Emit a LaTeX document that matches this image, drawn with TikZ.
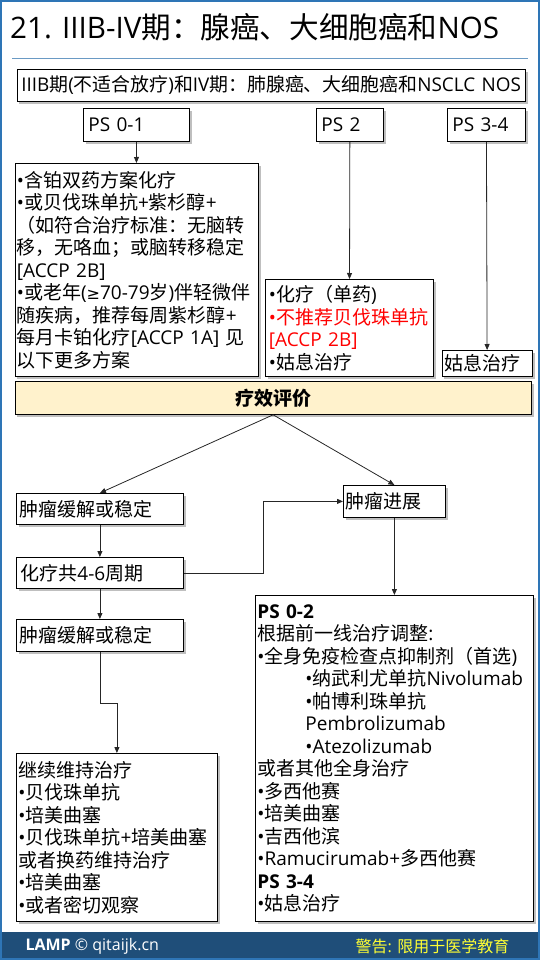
\documentclass[tikz,border=0pt]{standalone}
\usepackage{fontspec}
\setmainfont{Open Sans}
\newfontfamily\cjkfont{Noto Sans CJK SC}
\newfontfamily\symfont{DejaVu Sans}
\usepackage{xcolor}
\usetikzlibrary{arrows.meta,positioning,shadows}
% switch to the CJK font for CJK runs
\XeTeXinterchartokenstate=1
\newXeTeXintercharclass\CJKcls
\newcount\cjkc
\def\setcjkrange#1#2{\cjkc=#1\relax
  \loop\XeTeXcharclass\cjkc=\CJKcls\relax
  \ifnum\cjkc<#2\relax\advance\cjkc by 1\relax\repeat}
\setcjkrange{"4E00}{"9FFF}
\setcjkrange{"3000}{"303F}
\setcjkrange{"FF00}{"FFEF}
\XeTeXinterchartoks 0 \CJKcls = {\begingroup\cjkfont}
\XeTeXinterchartoks 4095 \CJKcls = {\begingroup\cjkfont}
\XeTeXinterchartoks \CJKcls 0 = {\endgroup}
\XeTeXinterchartoks \CJKcls 4095 = {\endgroup}
\definecolor{lampBlue}{HTML}{1F4E79}
\definecolor{frameBlue}{HTML}{2E75B6}
\definecolor{ruleBlue}{HTML}{6A9AC4}
\definecolor{evalFill}{HTML}{FFF2CC}
\definecolor{warnYellow}{HTML}{FFFF33}
\newcommand{\bodyfont}{\fontsize{19}{22.5}\selectfont}
\newcommand{\geqsym}{{\symfont\fontsize{16}{16}\selectfont ≥}}
\begin{document}
\begin{tikzpicture}[x=1pt, y=-1pt,
  box/.style={draw, fill=white, line width=0.8pt, anchor=north west, align=left,
    inner xsep=3pt, inner ysep=0pt, font=\bodyfont,
    drop shadow={shadow xshift=2.5pt, shadow yshift=-2.5pt, fill=black!50, opacity=0.5}},
  arr/.style={-{Triangle[length=6pt,width=5pt]}, line width=0.8pt, black!85}]
\useasboundingbox (0,0) rectangle (540,960);
% footer band and frame
\fill[lampBlue] (0,932) rectangle (540,960);
\draw[frameBlue, line width=2pt] (1,1) rectangle (539,959);
% title
\node[anchor=base west, inner sep=0pt, font=\fontsize{29.6}{35}\selectfont] (title) at (10,39)
  {21. IIIB-IV期：腺癌、大细胞癌和NOS};
\draw[ruleBlue, line width=1pt] (12,59) -- (528,59);
% top: stage and PS groups
\node[box, inner xsep=4.5pt, text width=499.5pt, minimum height=32pt,
  font=\fontsize{18.9}{22}\selectfont] (stage) at (16.5,69)
  {\mbox{IIIB期(不适合放疗)和IV期：肺腺癌、大细胞癌和NSCLC NOS}};
\node[box, inner xsep=5pt, text width=96pt, minimum height=33pt] (ps01) at (83,108) {PS 0-1};
\node[box, inner xsep=5pt, text width=57pt, minimum height=33pt] (ps2) at (316,108) {PS 2};
\node[box, inner xsep=5pt, text width=68pt, minimum height=33pt] (ps34) at (447,108) {PS 3-4};
% first line treatment
\node[box, inner xsep=2pt, text width=239.5pt, minimum height=213pt] (reg01) at (14.5,163)
  {•含铂双药方案化疗\\
   •或贝伐珠单抗+紫杉醇+\\
   （如符合治疗标准：无脑转\\
   移，无咯血；或脑转移稳定\\
   \relax[ACCP 2B]\\
   •或老年(\geqsym70-79岁)伴轻微伴\\
   随疾病，推荐每周紫杉醇+\\
   每月卡铂化疗[ACCP 1A] 见\\
   以下更多方案};
\node[box, inner xsep=3.5pt, text width=161pt, minimum height=97pt] (reg2) at (265,279)
  {•化疗（单药)\\
   \textcolor{red}{•不推荐贝伐珠单抗}\\
   \textcolor{red}{[ACCP 2B]}\\
   •姑息治疗};
\node[box, inner xsep=2.5pt, text width=85.5pt, minimum height=26pt] (pal34) at (441.5,350) {姑息治疗};
\draw[arr] (ps01) -- (reg01);
\draw[arr] (ps2) -- (reg2);
\draw[arr] (ps34) -- (pal34);
% response evaluation
\node[box, fill=evalFill, align=center, text width=510.5pt, minimum height=33pt,
  font=\bodyfont\bfseries] (eval) at (14.5,381) {疗效评价};
\node[box, text width=161pt, minimum height=31pt] (resp1) at (16,493) {肿瘤缓解或稳定};
\node[box, inner xsep=2.5pt, text width=97pt, minimum height=32pt] (prog) at (343,485) {肿瘤进展};
\node[box, inner xsep=4pt, text width=159pt, minimum height=31pt] (chemo) at (16,557) {化疗共4-6周期};
\node[box, text width=161pt, minimum height=32pt] (resp2) at (16,619) {肿瘤缓解或稳定};
\draw[arr] (eval.south) -- (resp1.north);
\draw[arr] (eval.south) -- (prog.north);
\draw[arr] (resp1) -- (chemo);
\draw[arr] (chemo.east) -- ++(80,0) |- (prog.west);
\draw[arr] (chemo) -- (resp2);
% maintenance / second line
\node[box, inner xsep=2pt, text width=197pt, minimum height=168pt] (maint) at (16,753)
  {继续维持治疗\\
   •贝伐珠单抗\\
   •培美曲塞\\
   •贝伐珠单抗+培美曲塞\\
   或者换药维持治疗\\
   •培美曲塞\\
   •或者密切观察};
\node[box, inner xsep=2pt, text width=274pt, minimum height=326pt] (later) at (255,595)
  {\textbf{PS 0-2}\\
   根据前一线治疗调整:\\
   •全身免疫检查点抑制剂（首选)\\
   \hspace*{48pt}•纳武利尤单抗Nivolumab\\
   \hspace*{48pt}•帕博利珠单抗\\
   \hspace*{48pt}Pembrolizumab\\
   \hspace*{48pt}•Atezolizumab\\
   或者其他全身治疗\\
   •多西他赛\\
   •培美曲塞\\
   •吉西他滨\\
   •Ramucirumab+多西他赛\\
   \textbf{PS 3-4}\\
   •姑息治疗};
\draw[arr] (resp2.south) -- ++(0,52) -| (maint.north);
\draw[arr] (prog) -- (later);
% footer texts
\node[anchor=west, text=white, font=\fontsize{16}{18}\selectfont] (brand) at (22,946)
  {\textbf{LAMP} © qitaijk.cn};
\node[anchor=east, text=warnYellow, font=\fontsize{16}{18}\selectfont] (warn) at (513,946)
  {警告: 限用于医学教育};
\end{tikzpicture}
\end{document}
